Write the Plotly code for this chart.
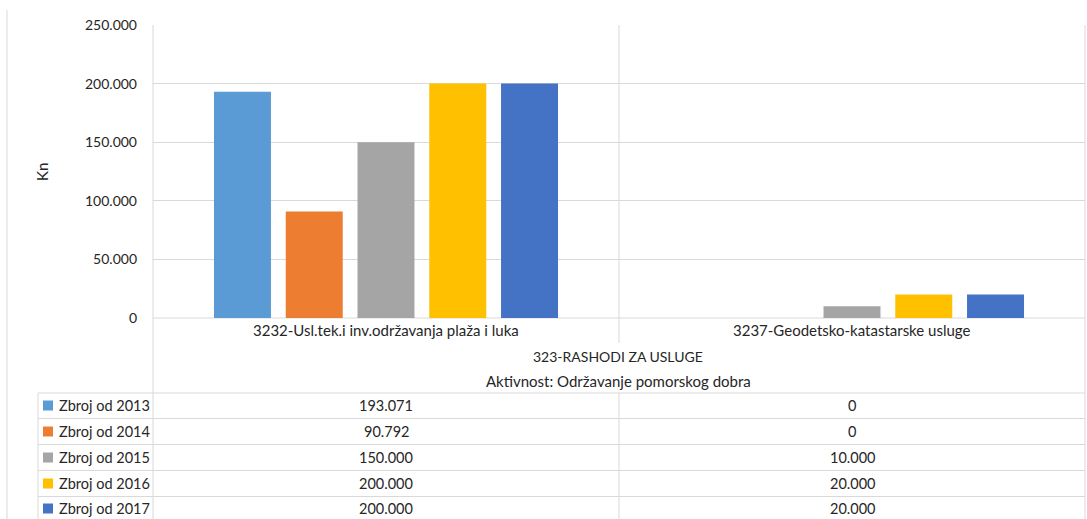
import plotly.graph_objects as go

categories = ["3232-Usl.tek.i inv.održavanja plaža i luka", "3237-Geodetsko-katastarske usluge"]
series_names = ["Zbroj od 2013", "Zbroj od 2014", "Zbroj od 2015", "Zbroj od 2016", "Zbroj od 2017"]
v2013 = [193071, 0]
v2014 = [90792, 0]
v2015 = [150000, 10000]
v2016 = [200000, 20000]
v2017 = [200000, 20000]
series_values = [v2013, v2014, v2015, v2016, v2017]
colors = ["#5B9BD5", "#ED7D31", "#A5A5A5", "#FFC000", "#4472C4"]
group_label = "323-RASHODI ZA USLUGE"
outer_label = "Aktivnost: Održavanje pomorskog dobra"
y_title = "Kn"
y_ticks = [0, 50000, 100000, 150000, 200000, 250000]

W, H = 1087, 519
FONT = "Lato, Noto Sans, sans-serif"
TXT = "#262626"
GRID = "#D9D9D9"


def px(x):
    return x / W


def py(y):
    return 1 - y / H


def fmt(v):
    return f"{v:,}".replace(",", ".")


fig = go.Figure()
for name, vals, col in zip(series_names, series_values, colors):
    fig.add_trace(go.Bar(x=categories, y=vals, name=name, marker=dict(color=col, line=dict(width=0)),
                         showlegend=False))

shapes = []


def line(x0, y0, x1, y1, color=GRID):
    shapes.append(dict(type="line", xref="paper", yref="paper", x0=px(x0), y0=py(y0), x1=px(x1), y1=py(y1),
                       line=dict(color=color, width=1), layer="below"))


# outer left border
line(7, 10, 7, H)
# plot / table vertical lines
line(153, 25, 153, H)
line(1085, 25, 1085, H)
line(619, 25, 619, 343)
line(619, 393, 619, H)
line(38, 393, 38, H)
# axis line
line(153, 318, 1085, 318)
# table row lines
row_lines = [393, 418.5, 444.5, 470.5, 496.5]
for yl in row_lines:
    line(38, yl, 1085, yl)

annotations = []
label_y = 330
for c in categories:
    annotations.append(dict(x=c, y=py(label_y), xref="x", yref="paper", text=c, showarrow=False,
                            xanchor="center", yanchor="middle", font=dict(size=15, color=TXT, family=FONT)))
annotations.append(dict(x=px(618), y=py(356), xref="paper", yref="paper", text=group_label, showarrow=False,
                        xanchor="center", yanchor="middle", font=dict(size=14, color=TXT, family=FONT)))
annotations.append(dict(x=px(618), y=py(381), xref="paper", yref="paper", text=outer_label, showarrow=False,
                        xanchor="center", yanchor="middle", font=dict(size=15, color=TXT, family=FONT)))
annotations.append(dict(x=px(42), y=py(172), xref="paper", yref="paper", text=y_title, showarrow=False,
                        textangle=-90, xanchor="center", yanchor="middle", font=dict(size=15, color=TXT, family=FONT)))

row_centers = [405.5, 431.5, 457.5, 483.5, 508.5]
for name, vals, col, yc in zip(series_names, series_values, colors, row_centers):
    shapes.append(dict(type="rect", xref="paper", yref="paper", x0=px(43), x1=px(53), y0=py(yc - 5), y1=py(yc + 5),
                       fillcolor=col, line=dict(width=0)))
    annotations.append(dict(x=px(57), y=py(yc), xref="paper", yref="paper", text=name, showarrow=False,
                            xanchor="left", yanchor="middle", font=dict(size=14.5, color=TXT, family=FONT)))
    for c, v in zip(categories, vals):
        annotations.append(dict(x=c, y=py(yc), xref="x", yref="paper", text=fmt(v), showarrow=False,
                                xanchor="center", yanchor="middle", font=dict(size=14.5, color=TXT, family=FONT)))

fig.update_layout(
    width=W, height=H,
    margin=dict(l=0, r=0, t=0, b=0, pad=0, autoexpand=False),
    paper_bgcolor="white", plot_bgcolor="white",
    separators=",.",
    barmode="group", bargap=0.23, bargroupgap=0.206,
    shapes=shapes, annotations=annotations,
    xaxis=dict(domain=[px(153), px(1085)], showticklabels=False, showgrid=False, zeroline=False,
               showline=False, ticks="", automargin=False),
    yaxis=dict(domain=[py(318), py(25)], range=[0, 250000], tickvals=y_ticks, tickformat=",d",
               showgrid=True, gridcolor=GRID, gridwidth=1, zeroline=False, showline=False, ticks="",
               ticklabelstandoff=15, automargin=False,
               tickfont=dict(size=14, color=TXT, family=FONT)),
    font=dict(family=FONT, color=TXT),
)

post = ("document.documentElement.style.margin='0';document.body.style.margin='0';"
        "document.body.style.overflow='hidden';")
fig.write_html("out.html", config={"displayModeBar": False}, post_script=post)
